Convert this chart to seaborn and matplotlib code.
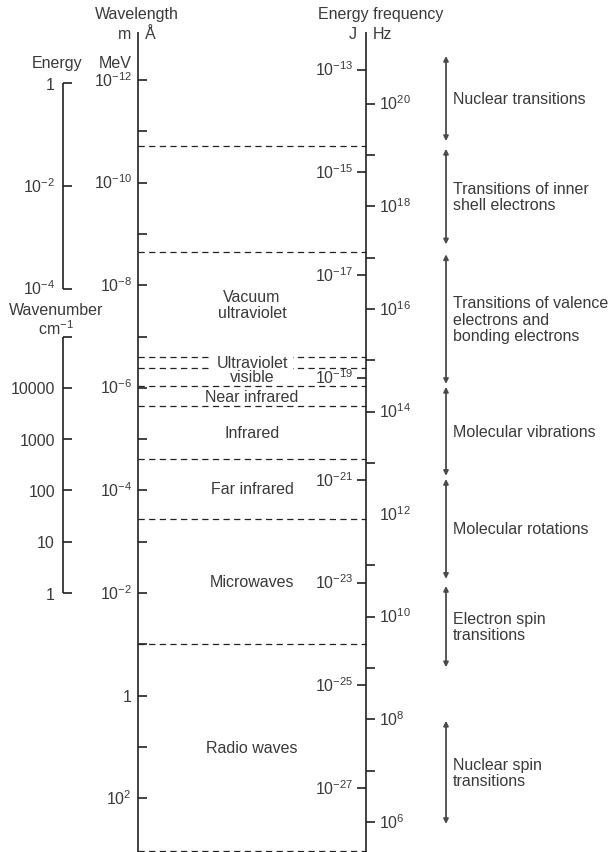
import matplotlib
matplotlib.use("Agg")
import matplotlib.pyplot as plt
import seaborn as sns

sns.set_theme(style="white")
plt.rcParams["font.family"] = ["Liberation Sans", "DejaVu Sans"]
plt.rcParams["mathtext.fontset"] = "custom"
plt.rcParams["mathtext.rm"] = "Liberation Sans"
plt.rcParams["mathtext.it"] = "Liberation Sans:italic"

# wavelength scale, metres (exponents of the ticks, labelled ones)
WL_TICK_EXP = [-12, -11, -10, -9, -8, -7, -6, -5, -4, -3, -2, -1, 0, 1, 2]
WL_LABEL_EXP = [-12, -10, -8, -6, -4, -2, 0, 2]

# energy in J (left of the right axis), frequency in Hz (right of it)
J_LABEL_EXP = [-13, -15, -17, -19, -21, -23, -25, -27]
HZ_LABEL_EXP = [20, 18, 16, 14, 12, 10, 8, 6]
HZ_TICK_EXP = [20, 19, 18, 17, 16, 15, 14, 13, 11, 10, 9, 8, 7, 6]

# energy in MeV and wavenumber in cm-1 (left brackets)
MEV_TICKS = [1, 1e-2, 1e-4]
MEV_LABELS = ["1", "$\\mathregular{10^{-2}}$", "$\\mathregular{10^{-4}}$"]
WAVENUMBER_TICKS = [1e5, 1e4, 1e3, 1e2, 10, 1]
WAVENUMBER_LABELS = ["", "10000", "1000", "100", "10", "1"]

# conversions to wavelength as drawn in the picture
J_TO_M = 6.3e-26
HZ_TO_M = 2.9e8
MEV_TO_M = 1.17e-12

# region boundaries (m) and names of the bands between them
BOUNDARIES = [1.9e-11, 2.3e-9, 2.5e-7, 4.1e-7, 9.2e-7, 2.3e-6, 2.4e-5, 3.6e-4, 0.1, 1.05e3]
REGIONS = ["", "Vacuum\nultraviolet", "Ultraviolet", "visible", "Near infrared",
           "Infrared", "Far infrared", "Microwaves", "Radio waves"]

# transitions (wavelength ranges in m)
TRANS_LO = [3.4e-13, 2.2e-11, 2.5e-9, 9.6e-7, 6.0e-5, 7.3e-3, 3.1]
TRANS_HI = [1.55e-11, 1.6e-9, 8.4e-7, 5.2e-5, 5.3e-3, 0.28, 318]
TRANS_NAMES = ["Nuclear transitions", "Transitions of inner\nshell electrons",
               "Transitions of valence\nelectrons and\nbonding electrons",
               "Molecular vibrations", "Molecular rotations",
               "Electron spin\ntransitions", "Nuclear spin\ntransitions"]

TXT = "#3a3a3a"
LINE = "#222222"
FS = 11.5


def y_at(px):
    return 10 ** ((px - 81) / 51.3 - 12)


def pw(e):
    return "$\\mathregular{10^{%d}}$" % e


fig = plt.figure(figsize=(6.1, 8.53), dpi=100)
ax = fig.add_axes([0, 0, 1, 1])
ax.set_yscale("log")
ax.set_xlim(0, 610)
ax.set_ylim(y_at(853), y_at(0))
ax.axis("off")


def label(x, y, s, ha):
    ax.annotate(s, (x, y), xytext=(0, -4.1), textcoords="offset points",
                ha=ha, va="baseline", fontsize=FS, color=TXT)


# wavelength axis
XW = 138
ax.vlines(XW, y_at(33), y_at(853), color=LINE, lw=1.2)
for e in WL_TICK_EXP:
    ax.hlines(10.0 ** e, XW, XW + 9, color=LINE, lw=1.2)
for e in WL_LABEL_EXP:
    label(XW - 6, 10.0 ** e, "1" if e == 0 else pw(e), "right")

# energy / frequency axis
XF = 366
ax.vlines(XF, y_at(33), y_at(853), color=LINE, lw=1.2)
for e in J_LABEL_EXP:
    lam = J_TO_M / 10.0 ** e
    ax.hlines(lam, XF - 9, XF, color=LINE, lw=1.2)
    label(XF - 13, lam, pw(e), "right")
for e in HZ_TICK_EXP:
    ax.hlines(HZ_TO_M / 10.0 ** e, XF, XF + 9, color=LINE, lw=1.2)
for e in HZ_LABEL_EXP:
    label(XF + 13, HZ_TO_M / 10.0 ** e, pw(e), "left")

# energy MeV bracket
XE = 63
ax.vlines(XE, MEV_TO_M / MEV_TICKS[0], MEV_TO_M / MEV_TICKS[-1], color=LINE, lw=1.2)
for v, s in zip(MEV_TICKS, MEV_LABELS):
    ax.hlines(MEV_TO_M / v, XE, XE + 9, color=LINE, lw=1.2)
    label(XE - 8, MEV_TO_M / v, s, "right")

# wavenumber bracket
ax.vlines(XE, 0.01 / WAVENUMBER_TICKS[0], 0.01 / WAVENUMBER_TICKS[-1], color=LINE, lw=1.2)
for v, s in zip(WAVENUMBER_TICKS, WAVENUMBER_LABELS):
    ax.hlines(0.01 / v, XE, XE + 9, color=LINE, lw=1.2)
    if s:
        label(XE - 8, 0.01 / v, s, "right")

# headers
label(137, y_at(13), "Wavelength", "center")
label(131, y_at(33), "m", "right")
label(145, y_at(33), "Å", "left")
label(57, y_at(62), "Energy", "center")
label(132, y_at(62), "MeV", "right")
label(381, y_at(13), "Energy frequency", "center")
label(357, y_at(33), "J", "right")
label(373, y_at(33), "Hz", "left")
label(56, y_at(309), "Wavenumber", "center")
label(56, y_at(329), "cm$^{\\mathregular{-1}}$", "center")

# region boundaries and names
ax.hlines(BOUNDARIES, XW, XF, color=LINE, lw=0.9, linestyles=(0, (5, 3.5)))
for lo, hi, name in zip(BOUNDARIES[:-1], BOUNDARIES[1:], REGIONS):
    if not name:
        continue
    mid = (lo * hi) ** 0.5
    box = None
    if name == "Ultraviolet":
        box = dict(fc="white", ec="none", pad=3.5)
    ax.text(252, mid, name, ha="center", va="center", fontsize=FS, color=TXT,
            linespacing=1.1, bbox=box, zorder=3)

# transitions arrows
XA = 446
for lo, hi, name in zip(TRANS_LO, TRANS_HI, TRANS_NAMES):
    ax.annotate("", xy=(XA, lo), xytext=(XA, hi),
                arrowprops=dict(arrowstyle="<|-|>", color="#4a4a4a", lw=1.3,
                                mutation_scale=7, shrinkA=0, shrinkB=0))
    ax.text(XA + 7, (lo * hi) ** 0.5, name, ha="left", va="center",
            fontsize=FS, color=TXT, linespacing=1.1)

fig.savefig("out.png", dpi=100)
